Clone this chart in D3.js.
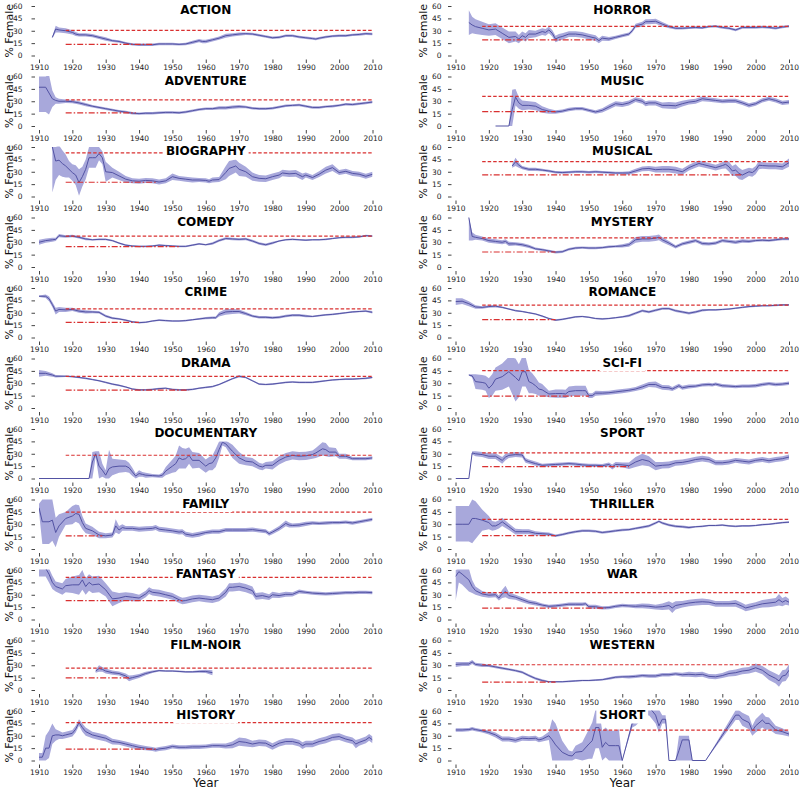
<!DOCTYPE html>
<html>
<head>
<meta charset="utf-8">
<script src="https://cdn.jsdelivr.net/npm/d3@7"></script>
<style>
  body { margin: 0; background: #fff; }
  svg { display: block; font-family: "DejaVu Sans", sans-serif; }
</style>
</head>
<body>
<div id="chart"></div>
<script>
// rows: [year, mean, spread] or [year, mean, lo, hi]
const ACTION = [[1914,22,1],[1915,32,4],[1916,31,3],[1918,30,3],[1920,28,2.5],[1921,26,2.5],[1922,25,2],[1924,25,2],[1926,24,2],[1928,22,2],[1930,20,2],[1932,18,1.5],[1934,17,1.5],[1936,15,1.5],[1938,13.5,1.5],[1940,13,1.5],[1942,13,1.5],[1944,13,1.5],[1946,14,1.5],[1948,14,1.5],[1950,14,1.5],[1952,13.5,1.5],[1954,14,1.5],[1956,16,2],[1958,18,2],[1959,17,2],[1960,17,2],[1962,19,2],[1964,21,2],[1966,24,2.5],[1968,25,2],[1970,26,2],[1972,26.5,1.5],[1974,26,1.5],[1976,24.5,1.5],[1978,23,1.5],[1980,21.5,1.5],[1982,22,1.5],[1984,24,1.5],[1986,24,1.5],[1988,22.5,1.5],[1990,21.5,1.5],[1992,20.5,1.5],[1993,20,1.5],[1994,21,1.5],[1996,22.5,1.5],[1998,23.5,1.5],[2000,24,1.5],[2002,24,1.5],[2004,25,1.5],[2006,25.5,1.5],[2008,26.5,1.5],[2010,26,1.5]];
const ADVENTURE = [[1910,47,17,60],[1912,47,17,60],[1913,40,14,62],[1914,33,10],[1915,31,4],[1916,30,3],[1918,30,2],[1920,29.5,2],[1922,28,2],[1924,26,2],[1926,24,1.5],[1928,22.5,1.5],[1930,21,1.5],[1932,19.5,1.5],[1934,18,1.5],[1936,17,1.5],[1938,15.5,1.5],[1940,15,1.5],[1942,15.5,1.5],[1944,15.5,1.5],[1946,16,1.5],[1948,16.5,1.5],[1950,16.5,1.5],[1952,16,1.5],[1954,17,1.5],[1956,18.5,1.5],[1958,20,1.5],[1960,21,1.5],[1962,21,1.5],[1964,22,2],[1966,22,2],[1968,23,2],[1970,23.5,2],[1972,23,1.5],[1974,21.5,1.5],[1976,21,1.5],[1978,21,1.5],[1980,21.5,1.5],[1982,23,1.5],[1984,24.5,1.5],[1986,25,1.5],[1988,25.5,1.5],[1990,24,1.5],[1992,22.5,1.5],[1994,22.5,1.5],[1996,23.5,1.5],[1998,24,1.5],[2000,25,1.5],[2002,26.5,1.5],[2004,26,1.5],[2006,27,1.5],[2008,28,1.5],[2010,29,1.5]];
const BIOGRAPHY = [[1914,60,5,60],[1915,43,20,60],[1916,44,18],[1917,40,16],[1918,37,14],[1919,33,10],[1920,29,10],[1921,26,12],[1922,17,16],[1923,24,12],[1924,33,12],[1925,47,35,60],[1926,47,35,60],[1927,47,35,60],[1928,52,44,60],[1929,47,8],[1930,30,12],[1932,29,6],[1934,25,5],[1936,21,4],[1938,19,3],[1940,18.5,3],[1942,19.5,3],[1944,19,3],[1946,17.5,3],[1948,19,3],[1950,24,4],[1952,22,3],[1954,21,3],[1956,20,3],[1958,20,2.5],[1960,19.5,2.5],[1961,18.5,2.5],[1962,20,3],[1964,20.5,3],[1966,29,8],[1967,34,9],[1969,37,8],[1970,33,8],[1972,30,6],[1974,24,5],[1976,22,4],[1978,21.5,4],[1980,24,4],[1982,26,4],[1983,28.5,4],[1985,27.5,4],[1987,28,4],[1989,24,4],[1990,26,3],[1992,23,3],[1994,27,3.5],[1996,32,4],[1998,35,4],[2000,29,3],[2002,30.5,3],[2004,28,3],[2006,27,3],[2008,24.5,3],[2010,27,3]];
const COMEDY = [[1910,30,3],[1912,32,2.5],[1914,33,2.5],[1915,33.5,2],[1916,38,2],[1918,37,1.5],[1920,37.5,1.5],[1922,36,1.5],[1924,34,1.5],[1926,33,1],[1928,33.5,1],[1930,33.5,1],[1932,32,1],[1934,29,1],[1936,26.5,1],[1938,25.5,1],[1940,25,1],[1942,25,1],[1944,25.5,1],[1946,26.5,1],[1948,26,1],[1950,25.5,1],[1952,25,1],[1954,25,1],[1956,26.5,1],[1958,28,1],[1960,27,1],[1962,28.5,1.5],[1964,32,1.5],[1966,34.5,1.5],[1968,34,1.5],[1970,33.5,1.5],[1972,34,1.5],[1974,31.5,1.5],[1976,28.5,1.5],[1978,27,1.5],[1980,29,1.5],[1982,31.5,1],[1984,33,1],[1986,33.5,1],[1988,33,1],[1990,32.5,1],[1992,33,1],[1994,33,1],[1996,33.5,1],[1998,34.5,1],[2000,35.5,1],[2002,36,1],[2004,36,1],[2006,36.5,1],[2008,38,1],[2010,37.5,1]];
const CRIME = [[1910,50,1],[1912,50,2],[1913,47,3],[1914,40,3],[1915,32,4],[1916,34,3],[1918,33.5,2.5],[1920,34,2],[1922,32,2],[1924,31,2],[1926,31,1.5],[1928,30.5,1.5],[1930,26,1.5],[1932,23.5,1.5],[1934,22.5,1],[1936,21,1],[1938,19,1],[1940,18,1],[1942,18.5,1],[1944,20,1],[1946,21,1],[1948,20.5,1],[1950,20,1],[1952,20,1],[1954,20.5,1],[1956,21.5,1],[1958,22.5,1],[1960,23.5,1.5],[1962,24,1.5],[1963,24,1.5],[1964,28,2.5],[1966,31,3.5],[1968,31.5,3],[1970,31.5,2.5],[1972,29,2],[1974,26,1.5],[1976,24.5,1.5],[1978,24.5,1.5],[1980,24,1.5],[1982,24.5,1.5],[1984,26,1.5],[1986,27,1.5],[1988,27,1.5],[1990,26,1.5],[1992,25.5,1],[1994,26.5,1],[1996,27.5,1],[1998,28,1],[2000,29,1],[2002,30,1],[2004,31,1],[2006,31.5,1],[2008,32,1],[2010,30.5,1.5]];
const DRAMA = [[1910,42,4],[1912,42,3],[1914,40,2],[1915,38.5,1.5],[1918,38.5,1],[1920,38,1],[1922,37,1],[1924,36,1],[1926,34.5,1],[1928,33,1],[1930,31,1],[1932,29,1],[1934,27.5,1],[1936,25.5,1],[1938,23,1],[1940,22,1],[1942,22,1],[1944,22.5,1],[1946,23.5,1],[1948,24,1],[1950,22.5,1],[1952,22,1],[1954,22,1],[1956,22.5,1],[1958,24,1],[1960,25,1],[1962,26,1],[1964,28.5,1],[1966,32,1],[1968,35.5,1],[1970,38.5,1.5],[1972,37,1],[1974,33,1],[1976,29,1],[1978,28.5,1],[1980,29,1],[1982,30,1],[1984,31,1],[1986,31.5,1],[1988,31,1],[1990,31,1],[1992,31,1],[1994,32,1],[1996,33,1],[1998,34,1],[2000,34.5,1],[2002,35,1],[2004,35,1],[2006,35.5,1],[2008,36,1],[2010,37,1]];
const DOCUMENTARY = [[1910,0,0],[1925,0,0],[1926,20,0,32],[1927,30,26,33],[1928,15,0,33],[1929,10,2,18],[1930,4,0,10],[1931,12,0,35],[1932,14,4,24],[1934,15,7,23],[1936,15,8,22],[1937,13,7,19],[1938,8,3,13],[1939,3,0,6],[1940,6,2,10],[1941,5,2,8],[1942,4,1,7],[1944,3.5,2],[1946,3,2],[1947,4,3],[1948,9,5],[1950,15,8],[1951,18,10],[1952,25,12,40],[1953,23,12,37],[1954,24,12],[1955,28,10],[1956,22,10],[1958,22,9],[1960,15,8],[1961,18,8],[1962,19,9],[1963,25,11],[1964,35,10],[1965,44,4],[1966,42,4],[1968,33,8],[1970,25,7],[1972,21,5],[1974,20,5],[1976,15,4],[1977,14,4],[1978,16,4],[1980,16,5],[1982,22,5],[1984,26,5],[1986,28,5],[1988,27,5],[1990,27.5,5],[1992,29,5],[1993,31,6],[1995,36,8],[1996,35,8],[1997,32,6],[1999,32,5],[2000,27,3],[2002,27,3],[2004,24,2],[2006,24,2],[2008,24,2],[2010,25,2]];
const FAMILY = [[1910,50,45,55],[1911,33,6,60],[1913,33,6,60],[1914,35,10,60],[1915,20,2,38],[1916,28,15,42],[1918,37,29,45],[1920,40,30,52],[1921,43,33,54],[1922,42,31,53],[1923,32,8],[1924,25,6],[1926,22,5],[1928,17,4],[1930,16,3],[1932,17,3],[1933,28,8],[1934,23,5],[1935,26,4],[1936,25,3],[1938,25,3],[1940,24,3],[1942,24.5,3],[1944,25,3],[1945,26,3],[1946,24,3],[1948,23,3],[1950,22,3],[1952,20.5,3],[1953,21,3],[1954,18,3],[1956,16.5,3],[1958,18,3],[1960,20,2.5],[1962,21,2.5],[1964,21,2.5],[1966,23,2.5],[1968,23,2.5],[1970,23,2.5],[1972,23,2.5],[1974,23.5,2.5],[1976,22.5,2.5],[1978,21.5,2.5],[1979,18.5,2.5],[1980,20.5,2.5],[1982,25,3],[1984,31,3.5],[1985,29,3],[1986,28.5,2.5],[1988,29,2.5],[1990,30.5,2.5],[1992,31.5,2],[1994,31,2],[1996,31.5,2],[1998,32,2],[2000,32,2],[2002,32.5,2],[2004,31.5,2],[2006,33,2],[2008,34.5,2],[2010,36,2]];
const FANTASY = [[1910,62,52,70],[1912,62,52,70],[1913,55,10],[1914,45,8],[1915,40,6],[1917,37,7],[1918,41,8],[1920,42,10],[1922,42,12],[1923,48,12],[1924,40,10],[1925,45,10],[1926,42,10],[1928,43,10],[1930,36,8],[1932,25,9],[1934,26,6],[1936,28,5],[1938,27,5],[1940,26,4],[1942,31,4],[1943,35,4],[1944,33,4],[1946,32,4],[1948,30,4],[1950,28,4],[1952,24,4],[1953,22.5,4],[1954,23,4],[1956,25,4],[1958,26,4],[1960,25,4],[1962,24,4],[1964,26,4],[1966,33,5],[1967,39,5],[1968,39,5],[1970,40,5],[1972,38,5],[1974,35,5],[1975,28,4],[1977,29,4],[1979,27,3.5],[1980,30,3.5],[1982,29,3],[1984,30.5,3],[1986,30.5,2.5],[1988,34,2.5],[1990,33,2],[1992,32,2],[1994,31.5,2],[1996,31,2],[1998,31.5,2],[2000,32,2],[2002,32.5,2],[2004,32.5,2],[2006,33,2],[2008,33,2],[2010,32.5,2]];
const FILM_NOIR = [[1927,23,2],[1928,26,4],[1929,25,3],[1930,23,3],[1932,21,2.5],[1934,20,2.5],[1936,17,3],[1937,14,3.5],[1938,15,3],[1940,17,2.5],[1942,20,2],[1944,22,1.5],[1946,23.5,1],[1948,23,1],[1950,23,1],[1952,22.5,1],[1954,22,1],[1956,22,1],[1958,22.5,1.5],[1960,22.5,2],[1962,21,3]];
const HISTORY = [[1910,4,0,9],[1911,4,0,9],[1912,15,0,30],[1913,15,3,36],[1914,30,20,45],[1915,31,7],[1916,31,5],[1917,30,4],[1918,31,4],[1920,33,4],[1921,38,4],[1922,46,4],[1923,40,5],[1924,35,5],[1926,31,4],[1928,29,4],[1930,27,4],[1932,23,3.5],[1934,22,3],[1936,20,3],[1938,18,3],[1940,16,3],[1942,15,2.5],[1944,14,2.5],[1945,13,2.5],[1946,14,2.5],[1948,15,2.5],[1950,17,2.5],[1952,16,2.5],[1954,16,2.5],[1956,16.5,2.5],[1958,16.5,2.5],[1960,17,2.5],[1962,18,2.5],[1964,18,2.5],[1966,17.5,3],[1968,19,4],[1970,23,5],[1972,22,5],[1974,20,4],[1976,21.5,4],[1978,21,4],[1980,17,4],[1982,21,4],[1984,23,4],[1986,23,4],[1988,21,4],[1989,18,4],[1990,20,4],[1992,20,4],[1994,23,4],[1996,25,4],[1998,28,4],[2000,29,4],[2002,26,4],[2004,24,4],[2005,20,5],[2006,22,4],[2008,25,4],[2009,28,4],[2010,25,4]];
const HORROR = [[1914,40,25,55],[1915,37,10],[1916,35,9],[1918,33,8],[1920,31,7],[1922,32,7],[1924,27,7],[1926,22,7],[1928,23,6],[1929,20,5],[1930,24,5],[1931,22,5],[1932,26,5],[1934,26,4],[1936,29,4],[1937,28,4],[1938,31,4],[1939,27,4],[1940,20,4],[1941,22,4],[1942,23,4],[1944,26,3.5],[1946,26,3.5],[1948,25,3.5],[1950,23,3.5],[1952,21,3.5],[1953,18,3],[1954,21,3],[1956,20,2.5],[1958,22,2],[1960,24,2],[1962,26,2],[1963,30,2],[1964,36,2.5],[1966,38,3],[1967,41,3],[1968,41,3],[1970,41.5,3],[1972,38,2.5],[1974,35,2],[1976,33,1.5],[1978,33,1.5],[1980,33.5,1.5],[1982,34,1.5],[1984,33.5,1.5],[1986,35,1.5],[1988,35.5,1.5],[1990,34,1.5],[1992,33,1.5],[1994,31,1.5],[1996,34,1.5],[1998,34,1.5],[2000,34,1.5],[2002,34.5,1.5],[2004,34,1.5],[2006,33,1.5],[2008,34.5,1.5],[2010,35.5,1.5]];
const MUSIC = [[1922,0,0],[1926,0,0],[1927,20,0,44],[1928,35,25,45],[1929,28,7],[1930,25,6],[1932,25,5],[1934,24,5],[1936,20,4],[1938,18,3],[1940,17,2],[1942,18,2],[1944,20,2],[1946,21,2],[1948,21,2],[1950,19,2],[1952,17,2],[1954,19,2.5],[1956,23,3],[1958,27,3],[1960,26,3],[1962,28,3],[1964,32,3],[1966,30,3],[1967,27,3],[1968,28,3],[1970,28,3],[1972,25,3.5],[1974,25,4],[1976,24.5,4],[1978,27,3.5],[1980,29,3],[1982,30,3],[1984,33,3],[1986,32,2.5],[1988,31,2.5],[1990,30,2.5],[1992,30.5,2.5],[1994,30.5,2.5],[1996,28,2.5],[1998,25,2.5],[2000,27,2.5],[2002,31,2.5],[2004,33,2.5],[2006,31,2.5],[2008,28,2.5],[2010,29,2.5]];
const MUSICAL = [[1927,37,2],[1928,42,5],[1929,38,3],[1930,35,2],[1932,33,2],[1934,33,2],[1936,32,1.5],[1938,31,1.5],[1940,29.5,1.5],[1942,29,1.5],[1944,29.5,1.5],[1946,30,1.5],[1948,30,1.5],[1950,29.5,1.5],[1952,30,1.5],[1954,29.5,1.5],[1956,29,1.5],[1958,28.5,1.5],[1960,28.5,1.5],[1962,28.5,2],[1964,31,2.5],[1966,33.5,3],[1968,34,3],[1970,32.5,3.5],[1972,33,4],[1974,33,4],[1976,32,4],[1978,30,3.5],[1980,35,3.5],[1982,38.5,3.5],[1983,40,3.5],[1984,39,3.5],[1986,37,3.5],[1988,35,3.5],[1990,37.5,4],[1991,39,5],[1992,36,6],[1993,31,6],[1994,32,7],[1995,28,7],[1996,26,6],[1998,30,5],[1999,29,5],[2000,32,5],[2001,38,5],[2002,37.5,4],[2004,37,4],[2006,37,4],[2008,36,4],[2010,41,5]];
const MYSTERY = [[1914,60,32,60],[1915,37,5],[1916,36,3],[1918,34.5,2.5],[1920,32,2.5],[1922,31,2.5],[1924,30,2.5],[1925,31,2.5],[1926,28,2.5],[1928,28,2],[1930,27,2],[1932,25,2],[1934,22,1.5],[1936,21,1.5],[1938,19.5,1.5],[1940,18,1.5],[1942,18.5,1.5],[1944,21.5,1.5],[1946,23,1.5],[1948,23.5,1.5],[1950,23,1.5],[1952,23,1.5],[1954,23.5,1.5],[1956,24.5,1.5],[1958,25,1.5],[1960,25.5,2],[1962,27,2.5],[1964,33,3.5],[1966,34,3.5],[1968,34,3.5],[1970,35,3.5],[1971,36,3.5],[1972,33,3],[1974,29,2.5],[1976,24.5,2],[1978,28,2],[1980,30,2],[1982,32,2],[1984,28.5,2],[1986,28,2],[1988,29,2],[1990,32,2],[1992,31,2],[1994,30,2],[1996,31.5,2],[1998,31,2],[2000,32,1.5],[2002,32.5,1.5],[2004,32,1.5],[2006,33,1.5],[2008,34,1.5],[2010,34,1.5]];
const ROMANCE = [[1910,43.5,4],[1912,44,3.5],[1914,41,3],[1916,37,2],[1918,36.5,1.5],[1920,37.5,1.5],[1922,38,1.5],[1924,36.5,1],[1926,34.5,1],[1928,32.5,1],[1930,31.5,1],[1932,30,1],[1934,28.5,1],[1936,26,1],[1938,23,1],[1940,21,1],[1942,22,1],[1944,23.5,1],[1946,25,1],[1948,25.5,1],[1950,24.5,1],[1952,23,1],[1954,22.5,1],[1956,23,1],[1958,24,1],[1960,25,1],[1962,26.5,1.5],[1964,29.5,1.5],[1966,32.5,1.5],[1968,31,1.5],[1970,33,1.5],[1972,35,1.5],[1974,35,1.5],[1976,32.5,1.5],[1978,31,1.5],[1980,29.5,1.5],[1982,31,1.5],[1984,33,1.5],[1986,33.5,1],[1988,33.5,1],[1990,34,1],[1992,34.5,1],[1994,35.5,1],[1996,36.5,1],[1998,37.5,1],[2000,38,1],[2002,38.5,1],[2004,38.5,1],[2006,39,1],[2008,39.5,1],[2010,39.5,1]];
const SCI_FI = [[1914,40,0.5],[1915,39,2],[1916,32,9],[1918,31,9],[1919,30,9],[1920,24,12],[1921,28,13],[1922,35,14],[1924,38,16],[1926,44,18],[1928,37,8,60],[1929,33,20],[1930,44,18],[1931,44,18],[1932,32,14],[1933,30,12],[1934,27,10],[1935,23,8],[1936,22,7],[1938,17,4],[1940,17.5,5],[1942,17.5,5],[1943,17,5],[1944,20,6],[1946,21,6],[1948,21,6],[1949,21,6],[1950,15,3],[1951,15,3],[1952,18,3],[1954,18,2.5],[1956,18.5,2.5],[1958,19.5,2.5],[1960,20.5,2.5],[1962,21.5,2.5],[1964,23,2.5],[1966,25.5,3],[1968,28.5,3],[1970,28.5,3.5],[1972,25,3],[1974,24.5,3],[1975,23,2.5],[1976,25,2.5],[1977,27,2.5],[1978,24.5,2.5],[1980,26,2.5],[1982,26.5,2],[1984,28,2],[1986,28.5,2],[1987,28,2],[1988,29,2],[1990,27,2],[1992,26.5,2],[1994,26,2],[1996,26.5,2],[1998,26.5,2],[2000,27,2],[2002,28.5,2],[2004,29.5,2],[2006,28.5,2],[2008,29,2],[2010,30,2]];
const SPORT = [[1910,0,0],[1914,0,0],[1915,31,2],[1916,30,3],[1918,29,3],[1920,27,3.5],[1922,27,3.5],[1924,22,4],[1925,26,4],[1926,28,3],[1928,29,3],[1930,28.5,3],[1931,22,3],[1932,20.5,2.5],[1934,18,2.5],[1936,16,2],[1938,16.5,2],[1940,17,2],[1942,17.5,2],[1944,18,2],[1946,17.5,2],[1948,16.5,2],[1950,16,2],[1952,16,2],[1954,15.5,2],[1956,17,2.5],[1957,14,3],[1958,17,3],[1960,16.5,3],[1962,15.5,4],[1964,20,6],[1966,23,7],[1968,21,6],[1970,15,5],[1972,16,4],[1974,16.5,4],[1976,19,3.5],[1978,19.5,3.5],[1980,21,3.5],[1982,23,3.5],[1984,24,3.5],[1986,23,3.5],[1988,19,3],[1990,19,3],[1992,20,3],[1994,22,3],[1996,21,3],[1998,20,3],[2000,22,3],[2002,23,3],[2004,21.5,3],[2006,23,3],[2008,24,3],[2010,26,3]];
const THRILLER = [[1910,30,9,52],[1912,30,9,52],[1914,30,9,52],[1915,37,7,60],[1916,37,12,58],[1918,35,22,48],[1920,32,8],[1921,28,6],[1922,28,5],[1923,30,5],[1924,33,5],[1926,27,4],[1928,21,3.5],[1930,21,3],[1932,21,3],[1934,19,2.5],[1936,18.5,2],[1938,18,2],[1940,16,1.5],[1942,17.5,1.5],[1944,19.5,1.5],[1946,21,1.5],[1948,22,1.5],[1950,22,1.5],[1952,21.5,1.5],[1954,20,1.5],[1956,21,1.5],[1958,22,1.5],[1960,23,1.5],[1962,23.5,1.5],[1964,25,1.5],[1966,26.5,1.5],[1968,28,1.5],[1970,31.5,1.5],[1971,33.5,1.5],[1972,31.5,1.5],[1974,29,1.5],[1976,27.5,1.5],[1978,27,1.5],[1980,26,1.5],[1982,27,1],[1984,27.5,1],[1986,28.5,1],[1988,28.5,1],[1990,29,1],[1992,28,1],[1994,27.5,1],[1996,28,1],[1998,28,1],[2000,28.5,1],[2002,29.5,1],[2004,30,1],[2006,31,1],[2008,32,1],[2010,32.5,1]];
const WAR = [[1910,52,22,60],[1911,58,45,62],[1912,55,42,62],[1914,48,34,62],[1915,40,8],[1916,35,5],[1918,31,3.5],[1920,29.5,3],[1922,30,3],[1923,26,3],[1924,31,5],[1925,34,7],[1926,29,4],[1928,27,3],[1930,24,3],[1932,21,2.5],[1934,19.5,2.5],[1936,17.5,2],[1938,16,2],[1940,16.5,2],[1942,17.5,2],[1944,18.5,2],[1946,18.5,2],[1948,18.5,2],[1949,19,2],[1950,15.5,2.5],[1952,15.5,2.5],[1954,14,2],[1956,14.5,2],[1958,16,2],[1960,17,2],[1962,16.5,2],[1964,16,2.5],[1966,16.5,3],[1968,16,3],[1970,15,3],[1972,15.5,4],[1974,17,5],[1975,14,6],[1976,17,5],[1978,18.5,4],[1980,20,4],[1982,21,4],[1984,21.5,4],[1986,21,3.5],[1988,19,3.5],[1990,19,3.5],[1992,19,3.5],[1994,19.5,4],[1996,16,4],[1997,14,4],[1998,15,4],[2000,17,4],[2002,19,4.5],[2004,20,5],[2006,21,5],[2007,24,7],[2008,21,5],[2009,23,5],[2010,21,4]];
const WESTERN = [[1910,31,3],[1912,31.5,2.5],[1914,31.5,2.5],[1915,34,2.5],[1916,31,2],[1918,30,2],[1920,29.5,1.5],[1922,28,1.5],[1924,26.5,1.5],[1926,25,1.5],[1928,23.5,1.5],[1930,21.5,1.5],[1932,17.5,1.5],[1934,14,1.5],[1936,11.5,1.5],[1938,10,1],[1940,10,1],[1942,10,1],[1944,10.5,1],[1946,11,1],[1948,11.5,1],[1950,11.5,1],[1952,12,1],[1954,12.5,1],[1956,14,1.5],[1958,15.5,1.5],[1960,16,1.5],[1962,16,2],[1964,16.5,2],[1966,17.5,2],[1968,17,2],[1970,17,2],[1972,18.5,2],[1974,18.5,2],[1976,19.5,2],[1978,18.5,2.5],[1980,19,3],[1982,18.5,3],[1984,19,3],[1986,16.5,3],[1988,16,3],[1990,17.5,3],[1992,20,3.5],[1994,21,4],[1996,23,4],[1998,24,4],[2000,27,5],[2002,24,5],[2004,18,6],[2006,14,6],[2007,11,7],[2008,17,7],[2009,18,7],[2010,24,7]];
const SHORT = [[1910,37,2],[1912,37,2],[1914,37.5,2],[1915,38.5,2],[1916,37.5,2],[1918,36,2],[1920,34,2.5],[1922,31,3],[1924,26,3],[1926,26,3],[1928,24.5,3],[1930,27,3],[1932,26.5,3],[1934,27,3],[1935,25,3],[1936,26,3],[1938,30,5],[1939,25,0,50],[1940,19,0,45],[1942,10,0,24],[1944,6,0,12],[1945,5.5,0,11],[1946,10,2,18],[1948,11,0,22],[1950,20,2,38],[1951,24,2,46],[1952,40,15,65],[1953,40,15,65],[1954,16,0,36],[1955,22,4,40],[1956,18,0,36],[1958,18,0,36],[1959,18,0,38],[1960,0,0],[1963,45,40,50],[1964,47,5],[1966,58,8],[1968,65,10],[1970,55,45,65],[1971,42,34,65],[1972,50,45,55],[1973,50,45,55],[1974,0,0],[1976,0,0],[1977,12,0,30],[1978,25,0,30],[1980,25,0,30],[1981,0,0],[1985,0,0],[1994,55,49,61],[1995,55,49,61],[1996,50,8],[1998,46,8],[1999,36,6],[2000,42,8],[2002,49,9],[2003,45,8],[2004,45,7],[2006,37,5],[2008,35,4],[2010,32,3]];

const genres = ["ACTION", "ADVENTURE", "BIOGRAPHY", "COMEDY", "CRIME", "DRAMA", "DOCUMENTARY", "FAMILY", "FANTASY", "FILM-NOIR", "HISTORY",
                "HORROR", "MUSIC", "MUSICAL", "MYSTERY", "ROMANCE", "SCI-FI", "SPORT", "THRILLER", "WAR", "WESTERN", "SHORT"];
const seriesList = [ACTION, ADVENTURE, BIOGRAPHY, COMEDY, CRIME, DRAMA, DOCUMENTARY, FAMILY, FANTASY, FILM_NOIR, HISTORY,
                    HORROR, MUSIC, MUSICAL, MYSTERY, ROMANCE, SCI_FI, SPORT, THRILLER, WAR, WESTERN, SHORT];
// dashed reference level (1918-2010)
const refHigh = [30.4, 31.7, 53, 37.5, 34.7, 38.4, 28.2, 44.8, 51, 26.5, 46, 35.2, 36, 42.3, 35.2, 39.2, 45.3, 31, 35.8, 32.6, 30.6, 36.7];
// dash-dot reference level, from 1918 up to refLowEnd
const refLow = [13.4, 15.9, 17.3, 24.7, 18.4, 21.6, null, 15.9, 22.9, 14.6, 13.7, 19, 17.5, 26.2, 18.2, 21.6, 14.3, 14.5, 16.3, 13.9, 9.6, null];
const refLowEnd = [1944, 1939, 1945, 1952, 1940, 1955, null, 1929, 1953, 1937, 1945, 1952, 1940, 1996, 1940, 1940, 1950, 1962, 1940, 1955, 1940, null];
const refStart = 1918;

const yearTicks = [1910, 1920, 1930, 1940, 1950, 1960, 1970, 1980, 1990, 2000, 2010];
const pctTicks = [0, 15, 30, 45, 60];

const width = 800, height = 790;
const columns = [
    { x0: 39, x1: 372.5, yLabelX: 9, tickPad: 9 },
    { x0: 455.5, x1: 789, yLabelX: 423, tickPad: 6.5 }
];
const rowsPerCol = 11;
const panelH = 49.5;
const rowTop = (r) => 6 + 70.5 * r;

const lineColor = "#5252a3";
const bandColor = "#a8a8db";
const refColor = "#d93030";
const tickColor = "#444";

const svg = d3.select("#chart")
    .append("svg")
    .attr("width", width)
    .attr("height", height);

const lo = (d) => d.length === 4 ? d[2] : d[1] - d[2];
const hi = (d) => d.length === 4 ? d[3] : d[1] + d[2];

genres.forEach((genre, i) => {
    const col = columns[Math.floor(i / rowsPerCol)];
    const top = rowTop(i % rowsPerCol);
    const x = d3.scaleLinear().domain([1910, 2010]).range([col.x0, col.x1]);
    const y = d3.scaleLinear().domain([0, 60]).range([top + panelH, top]);
    const data = seriesList[i];

    const g = svg.append("g").attr("class", "panel");
    const clipId = "clip-" + i;
    svg.append("clipPath").attr("id", clipId)
        .append("rect")
        .attr("x", col.x0).attr("y", top - 0.5)
        .attr("width", col.x1 - col.x0).attr("height", panelH + 1.5);

    const plot = g.append("g").attr("clip-path", `url(#${clipId})`);

    const area = d3.area()
        .defined((d) => d[1] != null)
        .x((d) => x(d[0]))
        .y0((d) => y(Math.max(0, lo(d))))
        .y1((d) => y(Math.min(62, hi(d))));

    plot.append("path")
        .datum(data)
        .attr("fill", bandColor)
        .attr("d", area);

    const line = d3.line()
        .defined((d) => d[1] != null)
        .x((d) => x(d[0]))
        .y((d) => y(d[1]));

    plot.append("path")
        .datum(data)
        .attr("fill", "none")
        .attr("stroke", lineColor)
        .attr("stroke-width", 1)
        .attr("d", line);

    const refLine = d3.line().x((d) => x(d[0])).y((d) => y(d[1]));

    g.append("path")
        .datum([[refStart, refHigh[i]], [2010, refHigh[i]]])
        .attr("fill", "none")
        .attr("stroke", refColor)
        .attr("stroke-width", 1.2)
        .attr("stroke-dasharray", "3.5,2")
        .attr("d", refLine);

    if (refLow[i] != null) {
        g.append("path")
            .datum([[refStart, refLow[i]], [refLowEnd[i], refLow[i]]])
            .attr("fill", "none")
            .attr("stroke", refColor)
            .attr("stroke-width", 1.2)
            .attr("stroke-dasharray", "6,2,1.5,2")
            .attr("d", refLine);
    }

    // y axis (offset from plot area)
    const yAxis = g.append("g")
        .attr("transform", `translate(${col.x0 - 4},0)`)
        .call(d3.axisLeft(y).tickValues(pctTicks).tickSize(3.5).tickPadding(col.tickPad).tickSizeOuter(0));
    yAxis.select(".domain").remove();
    yAxis.selectAll("line").attr("stroke", tickColor);
    yAxis.selectAll("text").attr("fill", "#222").style("font-size", "7.5px").style("font-family", "DejaVu Sans");

    // x axis
    const xAxis = g.append("g")
        .attr("transform", `translate(0,${top + panelH + 4})`)
        .call(d3.axisBottom(x).tickValues(yearTicks).tickFormat(d3.format("d")).tickSize(3.5).tickPadding(2).tickSizeOuter(0));
    xAxis.select(".domain").remove();
    xAxis.selectAll("line").attr("stroke", tickColor);
    xAxis.selectAll("text").attr("fill", "#222").style("font-size", "7.5px").style("font-family", "DejaVu Sans");

    g.append("text")
        .attr("transform", `translate(${col.yLabelX},${top + panelH / 2}) rotate(-90)`)
        .attr("text-anchor", "middle")
        .attr("dominant-baseline", "central")
        .style("font-size", "11px")
        .attr("fill", "#111")
        .text("% Female");

    // title with white box
    const cx = (col.x0 + col.x1) / 2;
    const cy = top + 4;
    const box = g.append("rect").attr("fill", "#fff");
    const title = g.append("text")
        .attr("x", cx)
        .attr("y", cy)
        .attr("text-anchor", "middle")
        .attr("dominant-baseline", "central")
        .style("font-size", "12px")
        .style("font-weight", "bold")
        .attr("fill", "#000")
        .text(genre);
    const tw = title.node().getComputedTextLength();
    box.attr("x", cx - tw / 2 - 3).attr("y", cy - 8).attr("width", tw + 6).attr("height", 16.5);
});

columns.forEach((col) => {
    svg.append("text")
        .attr("x", (col.x0 + col.x1) / 2)
        .attr("y", 783)
        .attr("text-anchor", "middle")
        .attr("dominant-baseline", "central")
        .style("font-size", "12px")
        .attr("fill", "#111")
        .text("Year");
});
</script>
</body>
</html>
